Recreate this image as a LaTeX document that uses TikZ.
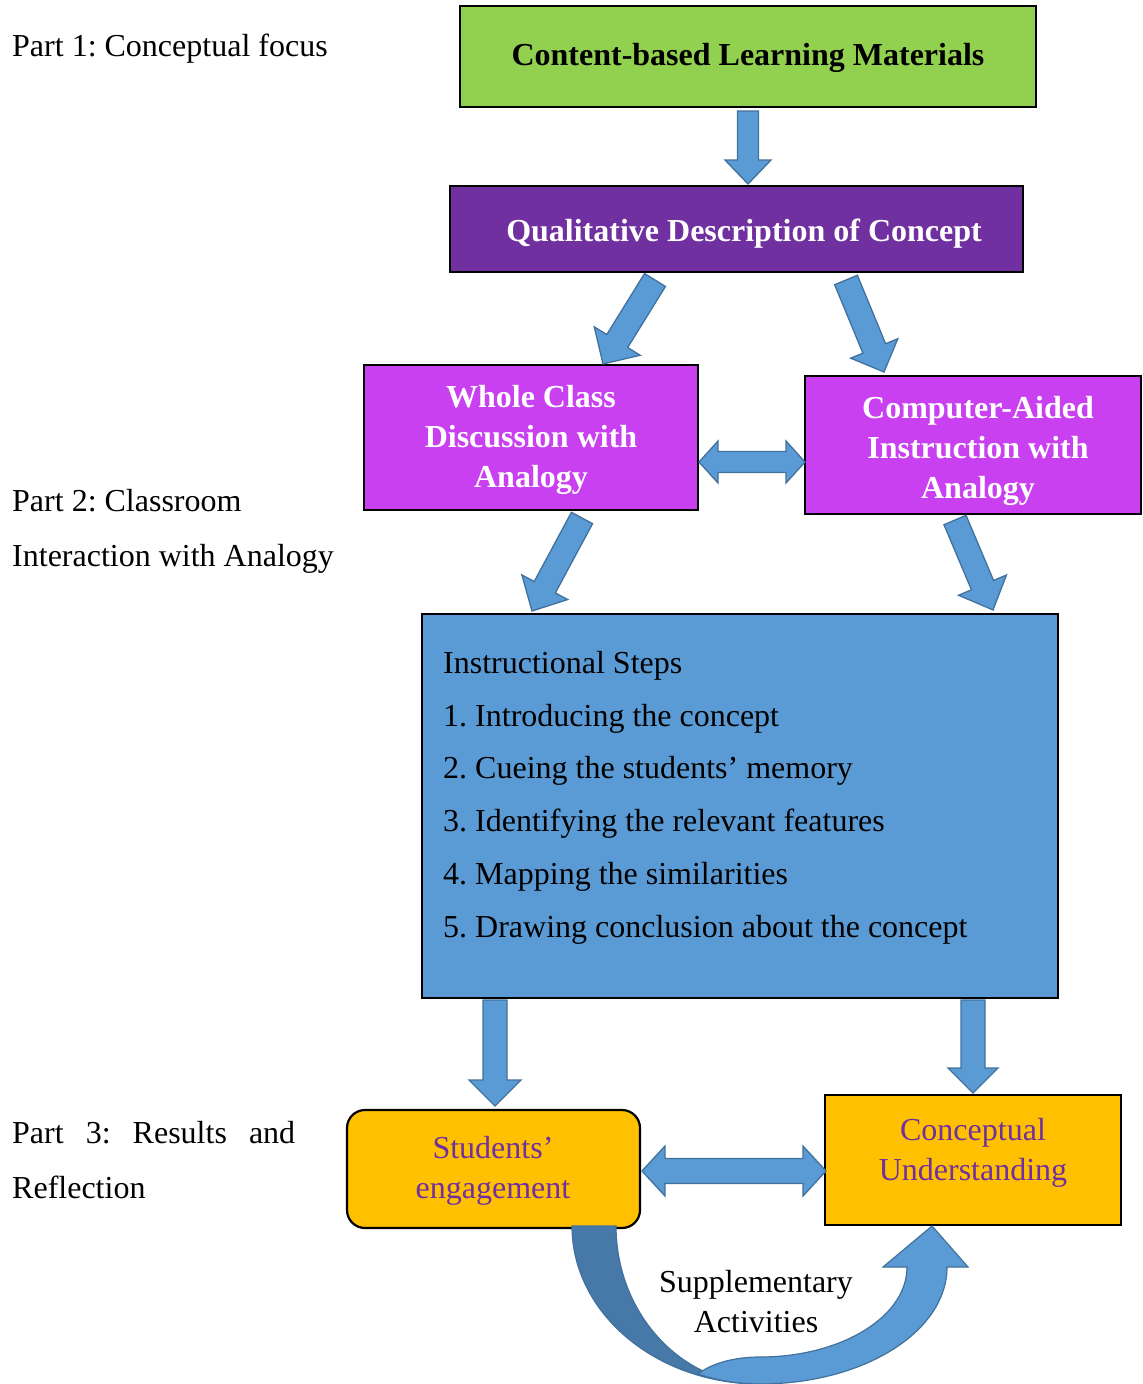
\documentclass[tikz,border=0pt]{standalone}
\usepackage{fontspec}
\setmainfont{Liberation Serif}
\usetikzlibrary{calc}
\frenchspacing
\definecolor{cgreen}{HTML}{92D050}
\definecolor{cpurple}{HTML}{7030A0}
\definecolor{cmagenta}{RGB}{200,64,240}
\definecolor{cblue}{HTML}{5B9BD5}
\definecolor{corange}{HTML}{FFC000}
\definecolor{cedge}{HTML}{41719C}
\definecolor{cdark}{RGB}{71,121,168}
\tikzset{
  box/.style={draw=black, line width=2.2pt, inner sep=0pt},
  blk/.style={fill=cblue, draw=cedge, line width=1.3pt, line join=miter},
  lab/.style={align=center, inner sep=0pt, font=\fontsize{32}{40}\selectfont},
  btxt/.style={align=center, inner sep=0pt, font=\fontsize{32}{40}\selectfont\bfseries},
  ptxt/.style={anchor=base west, inner sep=0pt, font=\fontsize{32}{40}\selectfont},
}
\newcommand{\onearrow}[5]{%
  \coordinate (hb) at ($(#2)!#5!(#1)$);
  \draw[blk] ($(#1)!#3!90:(#2)$) -- ($(hb)!#3!90:(#2)$) -- ($(hb)!#4!90:(#2)$) -- (#2)
    -- ($(hb)!#4!-90:(#2)$) -- ($(hb)!#3!-90:(#2)$) -- ($(#1)!#3!-90:(#2)$) -- cycle;}
\newcommand{\twoarrow}[5]{%
  \coordinate (ha) at ($(#1)!#5!(#2)$);
  \coordinate (hbb) at ($(#2)!#5!(#1)$);
  \draw[blk] (#1) -- ($(ha)!#4!90:(#2)$) -- ($(ha)!#3!90:(#2)$) -- ($(hbb)!#3!90:(#2)$)
    -- ($(hbb)!#4!90:(#2)$) -- (#2) -- ($(hbb)!#4!-90:(#2)$) -- ($(hbb)!#3!-90:(#2)$)
    -- ($(ha)!#3!-90:(#2)$) -- ($(ha)!#4!-90:(#2)$) -- cycle;}
\begin{document}
\begin{tikzpicture}[x=1pt,y=-1pt]
\useasboundingbox[fill=white] (0,0) rectangle (1143,1384);

% left part labels
\node[ptxt] (p1) at (12,56) {Part 1: Conceptual focus};
\node[ptxt] (p2a) at (12,511) {Part 2: Classroom};
\node[ptxt] (p2b) at (12,566) {Interaction with Analogy};
\node[ptxt] (p3a) at (12,1143) {\hbox to 283pt{Part\hfill 3:\hfill Results\hfill and}};
\node[ptxt] (p3b) at (12,1198) {Reflection};

% boxes
\node[box, fill=cgreen, minimum width=576pt, minimum height=101pt] (green) at (748,56.5) {};
\node[btxt] at (748,58) {Content-based Learning Materials};
\node[box, fill=cpurple, minimum width=573pt, minimum height=86pt] (purple) at (736.5,229) {};
\node[btxt, text=white] at (744,234) {Qualitative Description of Concept};
\node[box, fill=cmagenta, minimum width=334pt, minimum height=145pt] (wc) at (531,437.5) {};
\node[btxt, text=white] at (531,439.5) {Whole Class\\Discussion with\\Analogy};
\node[box, fill=cmagenta, minimum width=336pt, minimum height=138pt] (cai) at (973,445) {};
\node[btxt, text=white] at (978,451) {Computer-Aided\\Instruction with\\Analogy};
\node[box, fill=cblue, minimum width=636pt, minimum height=384pt] (steps) at (740,806) {};
\node[ptxt] (s0) at (443,673) {Instructional Steps};
\node[ptxt] (s1) at (443,726) {1. Introducing the concept};
\node[ptxt] (s2) at (443,778) {2. Cueing the students’ memory};
\node[ptxt] (s3) at (443,831) {3. Identifying the relevant features};
\node[ptxt] (s4) at (443,884) {4. Mapping the similarities};
\node[ptxt] (s5) at (443,937) {5. Drawing conclusion about the concept};
\node[box, fill=corange, rounded corners=18pt, minimum width=293pt, minimum height=118pt] (stud) at (493.5,1169) {};
\node[lab, text=cpurple] at (493,1170.5) {Students’\\engagement};
\node[box, fill=corange, minimum width=296pt, minimum height=130pt] (conc) at (973,1160) {};
\node[lab, text=cpurple] at (973,1153) {Conceptual\\Understanding};

% straight block arrows
\coordinate (a1s) at (748,111);  \coordinate (a1e) at (748,184);
\onearrow{a1s}{a1e}{10.5pt}{23pt}{24pt}
\coordinate (a2s) at (655,280);  \coordinate (a2e) at (603,364);
\onearrow{a2s}{a2e}{12.3pt}{27pt}{27pt}
\coordinate (a3s) at (846,280);  \coordinate (a3e) at (884,372);
\onearrow{a3s}{a3e}{12.3pt}{25.5pt}{25.5pt}
\coordinate (a4s) at (582,518);  \coordinate (a4e) at (532,611);
\onearrow{a4s}{a4e}{12pt}{26pt}{27pt}
\coordinate (a5s) at (955,520);  \coordinate (a5e) at (993,610);
\onearrow{a5s}{a5e}{12pt}{26pt}{27pt}
\coordinate (a6s) at (495,1000); \coordinate (a6e) at (495,1106);
\onearrow{a6s}{a6e}{12pt}{26pt}{26pt}
\coordinate (a7s) at (973,1000); \coordinate (a7e) at (973,1093);
\onearrow{a7s}{a7e}{12pt}{25pt}{25pt}
\coordinate (d1s) at (699,462);  \coordinate (d1e) at (805,462);
\twoarrow{d1s}{d1e}{10.5pt}{21pt}{19pt}
\coordinate (d2s) at (642,1171); \coordinate (d2e) at (826,1171);
\twoarrow{d2s}{d2e}{12.5pt}{25pt}{23pt}

% curved arrow
\coordinate (ctip) at (932,1226);
\draw[fill=cdark, draw=cedge, line width=1.2pt]
  (572,1226) .. controls (572,1313) and (656,1384) .. (760,1384)
  .. controls (681,1384) and (616,1313) .. (616,1226) -- cycle;
\draw[blk, line width=1.2pt]
  (760,1384) .. controls (863,1384) and (947,1332) .. (947,1267)
  -- (968,1267) -- (ctip) -- (883,1267) -- (907,1267)
  .. controls (907,1317) and (841,1357) .. (760,1357)
  .. controls (735,1357) and (712,1363) .. (698,1374)
  .. controls (716,1380) and (738,1384) .. (760,1384) -- cycle;
\node[lab] (supp) at (756,1302) {Supplementary\\Activities};
\end{tikzpicture}
\end{document}
